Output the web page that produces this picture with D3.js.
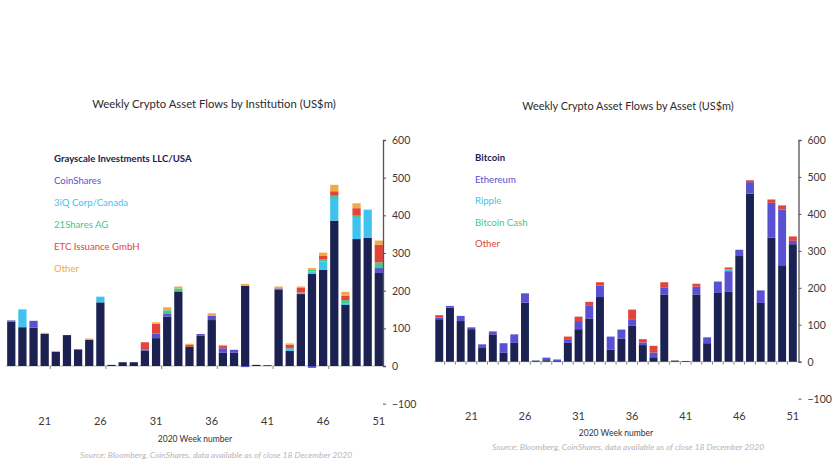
<!DOCTYPE html>
<html>
<head>
<meta charset="utf-8">
<script src="https://cdn.jsdelivr.net/npm/d3@7"></script>
<style>
body{margin:0;background:#fff;}
svg{font-family:Lato,"Open Sans",sans-serif;}
</style>
</head>
<body>
<div id="chart"></div>
<script>
var weeks = d3.range(18,52)
var weekLabels = [21,26,31,36,41,46,51]
var yTicks = [-100,0,100,200,300,400,500,600]

// left chart - by institution
var grayscale = [118,103,102,85,38,82,44,69,169,3,10,10,41,74,131,198,51,80,122,35,35,213,3,2,202,40,191,245,255,386,162,337,340,247]
var coinShares = [3,0,18,0,0,0,0,0,0,0,0,0,2,12,7,0,0,5,12,12,8,-3,0,0,4,0,0,-5,0,0,0,0,0,13]
var threeIQ = [0,46,0,0,0,0,0,0,15,0,0,0,0,0,0,0,0,0,0,0,0,0,0,0,0,7,0,6,22,60,5,56,75,0]
var shares21 = [0,0,0,0,0,0,0,0,0,0,0,0,0,0,10,8,0,0,0,0,0,0,0,0,0,0,4,4,7,6,8,6,0,15]
var etcIssuance = [0,0,0,0,0,0,0,0,0,0,0,0,20,26,0,0,5,0,0,6,0,0,0,0,0,9,12,0,8,12,11,20,0,47]
var otherInst = [0,2,0,3,2,0,0,4,0,0,0,0,0,4,8,5,3,0,6,3,0,5,0,0,5,4,4,5,9,17,11,13,0,11]

// right chart - by asset
var bitcoin = [115,146,110,88,37,74,24,51,160,3,4,2,51,88,117,175,33,62,97,45,12,182,3,2,182,50,186,189,286,455,159,336,261,318]
var ethereum = [5,5,14,5,10,8,26,23,25,0,7,4,10,22,34,31,35,25,18,7,13,18,0,0,21,16,31,56,17,31,34,94,151,9]
var ripple = [0,0,0,0,0,0,0,0,0,0,0,0,0,0,0,0,0,0,0,0,0,0,0,0,0,0,0,5,0,0,0,0,0,0]
var bitcoinCash = [0,0,0,0,0,0,0,0,0,0,0,0,0,0,0,0,0,0,0,0,0,0,0,0,0,0,0,0,0,0,0,0,0,0]
var otherAsset = [6,0,0,0,0,0,0,0,0,0,0,0,7,12,11,9,0,0,26,9,18,15,0,0,8,0,0,5,0,5,0,9,11,12]

var navy = "#1b2150", purple = "#5a50d2", cyan = "#3fc3ee", green = "#45c98a", red = "#e2443a", orange = "#f2aa48"

var svg = d3.select("#chart").append("svg").attr("width",840).attr("height",472)

drawChart({
	title:"Weekly Crypto Asset Flows by Institution (US$m)",
	titleX:214, titleY:108, titleSize:11.3,
	names:["Grayscale Investments LLC/USA","CoinShares","3iQ Corp/Canada","21Shares AG","ETC Issuance GmbH","Other"],
	series:[grayscale,coinShares,threeIQ,shares21,etcIssuance,otherInst],
	colors:[navy,purple,cyan,green,red,orange],
	legendX:54, legendY:162, legendStep:21.9,
	xRange:[5.7,384.4], axisX:383, y0:366, y600:140,
	everyTick:false, labelY:425, weekY:442, sourceY:458,
	weekX:195, sourceX:216
})
drawChart({
	title:"Weekly Crypto Asset Flows by Asset (US$m)",
	titleX:628, titleY:110, titleSize:10.9,
	names:["Bitcoin","Ethereum","Ripple","Bitcoin Cash","Other"],
	series:[bitcoin,ethereum,ripple,bitcoinCash,otherAsset],
	colors:[navy,purple,cyan,green,red],
	legendX:475, legendY:161, legendStep:21.6,
	xRange:[433.9,798.2], axisX:798.5, y0:361.7, y600:140,
	everyTick:true, labelY:420, weekY:436, sourceY:450,
	weekX:616, sourceX:628
})

function drawChart(c){
	var rows = weeks.map(function(w,i){
		var r = {week:w}
		c.names.forEach(function(n,j){ r[n] = c.series[j][i] })
		return r
	})
	var stacked = d3.stack().keys(c.names).offset(d3.stackOffsetDiverging)(rows)

	var xScale = d3.scaleBand().domain(weeks).range(c.xRange).paddingInner(0.26).paddingOuter(0.13)
	var yScale = d3.scaleLinear().domain([0,600]).range([c.y0,c.y600])

	svg.append("text").text(c.title)
		.attr("x",c.titleX).attr("y",c.titleY)
		.attr("text-anchor","middle").attr("font-size",c.titleSize)
		.attr("fill","#2b2b2b")

	// baseline
	svg.append("line")
		.attr("x1",c.xRange[0]).attr("x2",c.axisX)
		.attr("y1",yScale(0)).attr("y2",yScale(0))
		.attr("stroke","#b8b8b8").attr("stroke-width",1)

	svg.selectAll(".layer"+c.titleX)
		.data(stacked)
		.enter()
		.append("g")
		.attr("fill",function(d,i){return c.colors[i]})
		.selectAll("rect")
		.data(function(d){return d})
		.enter()
		.append("rect")
		.attr("x",function(d){return xScale(d.data.week)})
		.attr("width",xScale.bandwidth())
		.attr("y",function(d){return yScale(d[1])})
		.attr("height",function(d){return Math.abs(yScale(d[0])-yScale(d[1]))})

	// x ticks (between categories)
	var step = xScale.step()
	var tickWeeks = c.everyTick ? weeks.slice(0,-1) : weekLabels.slice(0,-1)
	svg.selectAll(".xt"+c.titleX)
		.data(tickWeeks)
		.enter()
		.append("line")
		.attr("x1",function(d){return xScale(d)+xScale.bandwidth()/2+step/2})
		.attr("x2",function(d){return xScale(d)+xScale.bandwidth()/2+step/2})
		.attr("y1",yScale(0)).attr("y2",yScale(0)+3)
		.attr("stroke","#8a8a8a")

	svg.selectAll(".xl"+c.titleX)
		.data(weekLabels)
		.enter()
		.append("text")
		.text(function(d){return d})
		.attr("x",function(d){return xScale(d)+xScale.bandwidth()/2})
		.attr("y",c.labelY)
		.attr("text-anchor","middle").attr("font-size",11)
		.attr("fill","#3a3a3a")

	var yAxis = d3.axisRight().scale(yScale).tickValues(yTicks).tickSize(3).tickPadding(6)
	var yG = svg.append("g").attr("transform","translate("+c.axisX+",0)").call(yAxis)
	yG.select(".domain").attr("stroke","#555").attr("stroke-width",1.3)
	yG.selectAll("line").attr("stroke","#555")
	yG.selectAll("text").attr("font-size",10.5).attr("fill","#3a3a3a").attr("font-family","Lato,sans-serif")

	svg.selectAll(".lg"+c.titleX)
		.data(c.names)
		.enter()
		.append("text")
		.text(function(d){return d})
		.attr("x",c.legendX)
		.attr("y",function(d,i){return c.legendY+i*c.legendStep})
		.attr("font-size",9.6)
		.attr("font-weight",function(d,i){return i==0?"bold":"normal"})
		.attr("fill",function(d,i){return c.colors[i]})

	svg.append("text").text("2020 Week number")
		.attr("x",c.weekX).attr("y",c.weekY)
		.attr("text-anchor","middle").attr("font-size",8.5)
		.attr("fill","#333")

	svg.append("text").text("Source: Bloomberg, CoinShares, data available as of close 18 December 2020")
		.attr("x",c.sourceX).attr("y",c.sourceY)
		.attr("text-anchor","middle").attr("font-size",8.5)
		.attr("font-style","italic")
		.attr("fill","#b5b5b5")
}
</script>
</body>
</html>
